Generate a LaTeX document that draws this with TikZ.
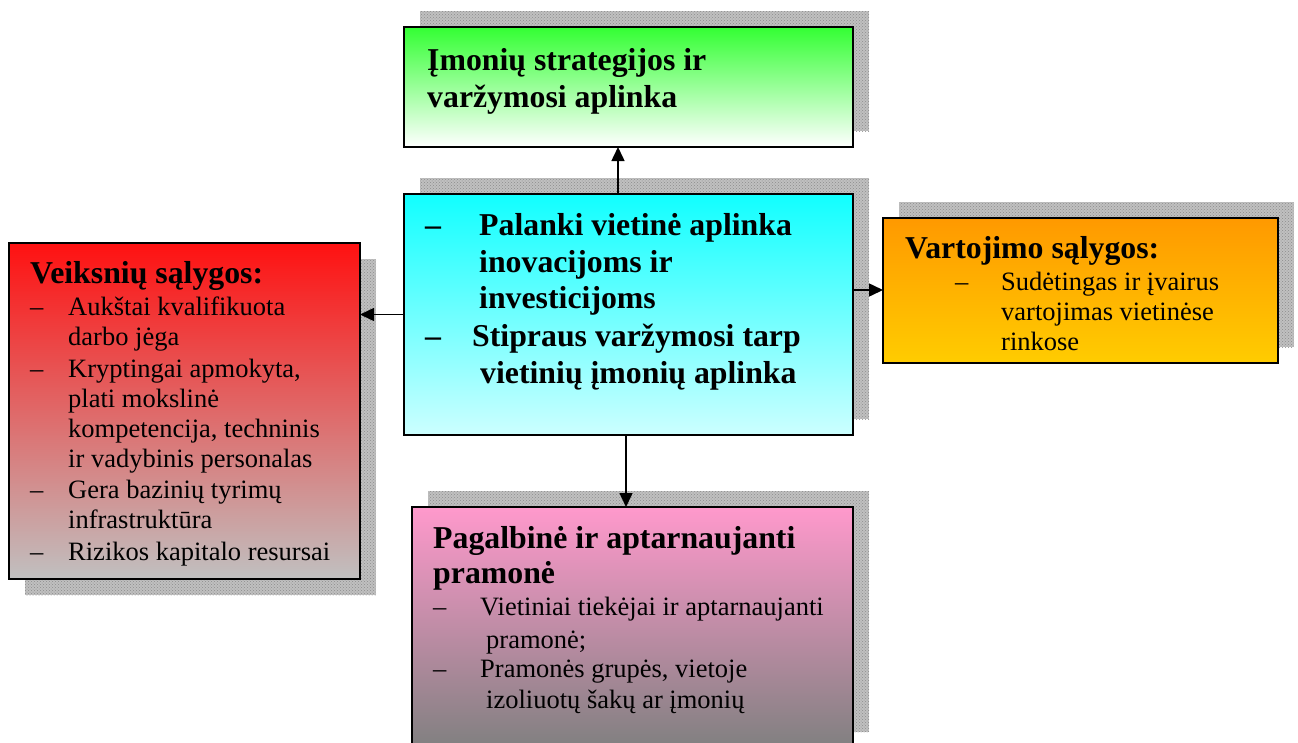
\documentclass[tikz,border=0pt]{standalone}
\usepackage{fontspec}
\setmainfont{Liberation Serif}
\usetikzlibrary{arrows.meta,backgrounds,patterns}

\begin{document}
\begin{tikzpicture}[x=1pt,y=-1pt,
  box/.style={draw=black, line width=2pt, rectangle, inner sep=0pt, outer sep=0pt,
              anchor=north west, shading=axis},
  shadowfill/.style={fill={rgb,255:red,192;green,192;blue,192}},
  shadowdots/.style={pattern=crosshatch dots, pattern color={rgb,255:red,140;green,140;blue,140}},
  txt/.style={anchor=base west, inner sep=0pt, font=\fontsize{26.5}{30}\selectfont},
  ttl/.style={anchor=base west, inner sep=0pt, font=\bfseries\fontsize{31.8}{37}\selectfont},
  arr/.style={line width=1.5pt, -{Triangle[length=14pt,width=13pt]}}
]
\useasboundingbox (0,0) rectangle (1298,742);
\clip (0,0) rectangle (1298,742);

% boxes
\node[box, top color={rgb,255:red,51;green,255;blue,51}, bottom color=white,
      minimum width=449pt, minimum height=120pt] (top) at (404,27) {};
\node[box, top color={rgb,255:red,17;green,255;blue,255}, bottom color={rgb,255:red,204;green,255;blue,255},
      minimum width=449pt, minimum height=241pt] (ctr) at (404,194) {};
\node[box, top color={rgb,255:red,255;green,17;blue,17}, bottom color={rgb,255:red,192;green,192;blue,192},
      minimum width=351pt, minimum height=336pt] (lft) at (9,243) {};
\node[box, top color={rgb,255:red,255;green,153;blue,0}, bottom color={rgb,255:red,255;green,204;blue,0},
      minimum width=395pt, minimum height=145pt] (rgt) at (883,218) {};
\node[box, top color={rgb,255:red,255;green,153;blue,204}, bottom color={rgb,255:red,128;green,128;blue,128},
      minimum width=441pt, minimum height=241pt] (bot) at (412,507) {};

% shadows behind the boxes
\begin{scope}[on background layer]
  \fill[white] (0,0) rectangle (1298,742);
  \foreach \n/\dx/\dy in {top/16/-16, ctr/16/-16, lft/16/16, rgt/16/-16, bot/16/-16} {
    \fill[shadowfill] ([shift={(\dx,\dy)}]\n.north west) rectangle ([shift={(\dx,\dy)}]\n.south east);
    \fill[shadowdots] ([shift={(\dx,\dy)}]\n.north west) rectangle ([shift={(\dx,\dy)}]\n.south east);
  }
\end{scope}

% connectors
\draw[arr] ([xshift=-10.5pt]ctr.north) -- ([xshift=-10.5pt]ctr.north |- top.south);
\draw[arr] ([xshift=-2.5pt]ctr.south) -- ([xshift=-2.5pt]ctr.south |- bot.north);
\draw[arr] (ctr.west) -- (ctr.west -| lft.east);
\draw[arr] ([yshift=24.5pt]ctr.east) -- ([yshift=24.5pt]ctr.east -| rgt.west);

% top box text
\node[ttl] (a1) at (427,70) {Įmonių strategijos ir};
\node[ttl] (a2) at (427,107) {varžymosi aplinka};

% centre box text
\node[ttl] (c0) at (425,235) {–};
\node[ttl] (c1) at (479,235) {Palanki vietinė aplinka};
\node[ttl] (c2) at (479,272) {inovacijoms ir};
\node[ttl] (c3) at (479,308) {investicijoms};
\node[ttl] (c4) at (425,346) {–};
\node[ttl] (c5) at (472,346) {Stipraus varžymosi tarp};
\node[ttl] (c6) at (480,383) {vietinių įmonių aplinka};

% left box text
\node[ttl] (l0) at (30,283) {Veiksnių sąlygos:};
\node[txt] (ld1) at (30,315) {–};
\node[txt] (l1) at (68,315) {Aukštai kvalifikuota};
\node[txt] (l2) at (68,345) {darbo jėga};
\node[txt] (ld2) at (30,377) {–};
\node[txt] (l3) at (68,377) {Kryptingai apmokyta,};
\node[txt] (l4) at (68,407) {plati mokslinė};
\node[txt] (l5) at (68,437) {kompetencija, techninis};
\node[txt] (l6) at (68,467) {ir vadybinis personalas};
\node[txt] (ld3) at (30,498) {–};
\node[txt] (l7) at (68,498) {Gera bazinių tyrimų};
\node[txt] (l8) at (68,528) {infrastruktūra};
\node[txt] (ld4) at (30,560) {–};
\node[txt] (l9) at (68,560) {Rizikos kapitalo resursai};

% right box text
\node[ttl] (r0) at (905,258) {Vartojimo sąlygos:};
\node[txt] (rd1) at (955,290) {–};
\node[txt] (r1) at (1001,290) {Sudėtingas ir įvairus};
\node[txt] (r2) at (1001,320) {vartojimas vietinėse};
\node[txt] (r3) at (1001,350) {rinkose};

% bottom box text
\node[ttl] (b0) at (433,548) {Pagalbinė ir aptarnaujanti};
\node[ttl] (b1) at (433,583) {pramonė};
\node[txt] (bd1) at (433,615) {–};
\node[txt] (b2) at (480,615) {Vietiniai tiekėjai ir aptarnaujanti};
\node[txt] (b3) at (486,648) {pramonė;};
\node[txt] (bd2) at (433,677) {–};
\node[txt] (b4) at (480,677) {Pramonės grupės, vietoje};
\node[txt] (b5) at (486,708) {izoliuotų šakų ar įmonių};
\end{tikzpicture}
\end{document}
